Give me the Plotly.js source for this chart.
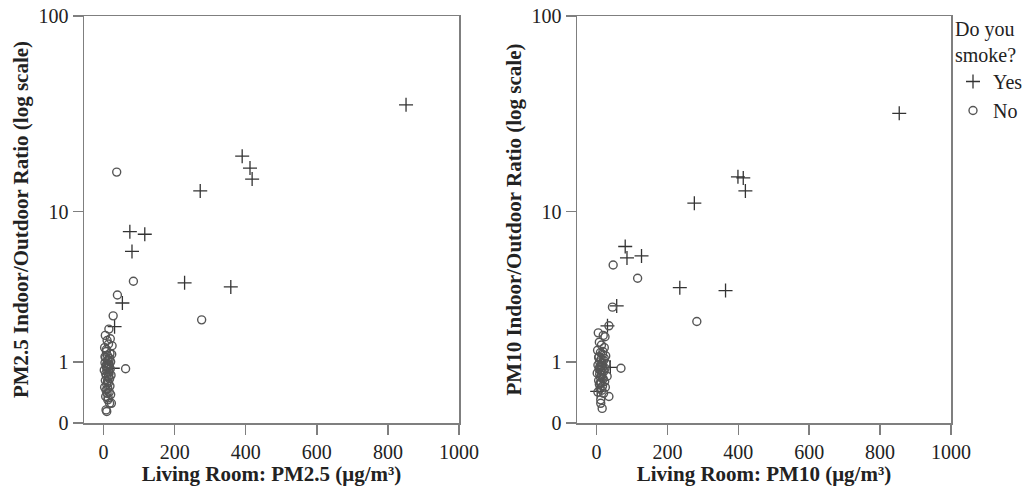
<!DOCTYPE html>
<html>
<head>
<meta charset="utf-8">
<script src="https://cdn.plot.ly/plotly-3.0.1.min.js"></script>
<style>html,body{margin:0;padding:0;background:#fff;}#chart{width:1024px;height:493px;}</style>
</head>
<body>
<div id="chart"></div>
<script>
// ---- Data (ratio values; the y axis is an SPSS "safe log" scale: log10(1 + ratio)) ----
// Left panel: PM2.5
const pm25YesX = [851, 390, 412, 418, 272, 74, 116, 80, 228, 358, 53, 31, 26];
const pm25YesR = [35.9, 19.6, 17.0, 14.9, 12.9, 7.75, 7.5, 6.0, 3.9, 3.68, 2.9, 1.98, 0.86];
const pm25NoX = [37, 84, 39, 27, 276, 62, 22, 9, 7, 17, 12,
  15, 5, 10, 14, 3, 8, 18, 11, 6, 13, 20, 4, 9, 16, 7, 12, 19, 2, 10, 15, 6, 21, 8, 13, 17,
  5, 11, 14, 9, 18, 3, 12, 7, 16, 10, 20, 6, 13, 8, 4, 11, 15, 9, 17, 24, 19, 12, 23, 14];
const pm25NoR = [16.2, 3.99, 3.27, 2.37, 2.22, 0.85, 0.25, 0.14, 0.16, 0.25, 0.3,
  1.9, 1.7, 1.55, 1.45, 1.35, 1.25, 1.2, 1.15, 1.1, 1.05, 1.0, 0.98, 0.95, 0.92, 0.9, 0.88, 0.85, 0.82, 0.8, 0.78, 0.75, 0.72, 0.7, 0.68, 0.65,
  0.62, 0.6, 0.58, 0.55, 0.52, 0.5, 0.48, 0.45, 0.42, 0.4, 0.38, 0.35, 0.33, 1.3, 1.12, 1.02, 0.93, 0.87, 1.08, 1.4, 1.6, 0.96, 1.18, 0.7];
// Right panel: PM10
const pm10YesX = [854, 399, 414, 420, 276, 81, 86, 127, 235, 364, 57, 31, 39, 2];
const pm10YesR = [32.5, 15.3, 15.1, 12.9, 11.1, 6.4, 5.5, 5.65, 3.64, 3.49, 2.77, 2.01, 0.88, 0.43];
const pm10NoX = [47, 116, 45, 283, 35, 24, 69, 35, 16, 12,
  5, 19, 8, 14, 22, 3, 11, 17, 26, 6, 13, 20, 9, 15, 28, 4, 10, 18, 24, 7, 12, 21, 16, 2, 9, 14, 30, 11,
  19, 6, 23, 13, 8, 17, 25, 10, 15, 4, 20, 12, 18, 7, 27, 14, 9, 22, 16, 11];
const pm10NoR = [5.0, 4.16, 2.72, 2.16, 2.01, 1.66, 0.86, 0.35, 0.18, 0.3,
  1.78, 1.7, 1.5, 1.42, 1.35, 1.28, 1.22, 1.18, 1.14, 1.1, 1.06, 1.03, 1.0, 0.98, 0.95, 0.93, 0.9, 0.88, 0.86, 0.84, 0.82, 0.8, 0.78, 0.76, 0.74, 0.72, 0.7, 0.68,
  0.65, 0.62, 0.6, 0.57, 0.55, 0.52, 0.5, 0.47, 0.45, 0.42, 0.4, 0.25, 1.25, 1.12, 0.96, 0.91, 0.87, 1.08, 0.67, 0.58];

const yTickValues = [0, 1, 10, 100];
const yTickLabels = ['0', '1', '10', '100'];
const xTickValues = [0, 200, 400, 600, 800, 1000];

const safeLog = r => Math.log10(1 + r);

const serif = '"Liberation Serif", "Times New Roman", serif';
const crossMarker = {symbol: 'cross-thin-open', size: 10, color: '#333', line: {color: '#333', width: 1.3}};
const circleMarker = {symbol: 'circle-open', size: 8, color: '#555', line: {color: '#555', width: 1.4}};

const traces = [
  {x: pm25YesX, y: pm25YesR.map(safeLog), type: 'scatter', mode: 'markers', name: 'Yes', marker: crossMarker, xaxis: 'x', yaxis: 'y', legendgroup: 'yes'},
  {x: pm25NoX, y: pm25NoR.map(safeLog), type: 'scatter', mode: 'markers', name: 'No', marker: circleMarker, xaxis: 'x', yaxis: 'y', legendgroup: 'no'},
  {x: pm10YesX, y: pm10YesR.map(safeLog), type: 'scatter', mode: 'markers', name: 'Yes', marker: crossMarker, xaxis: 'x2', yaxis: 'y2', legendgroup: 'yes', showlegend: false},
  {x: pm10NoX, y: pm10NoR.map(safeLog), type: 'scatter', mode: 'markers', name: 'No', marker: circleMarker, xaxis: 'x2', yaxis: 'y2', legendgroup: 'no', showlegend: false}
];

const yMax = safeLog(100);
function xAxis(domain, title, anchor) {
  return {
    domain: domain, anchor: anchor, range: [-55, 1000],
    tickvals: xTickValues, ticktext: xTickValues.map(String),
    ticks: 'outside', ticklen: 10, tickwidth: 1.5, tickcolor: '#7f7f7f',
    showline: true, mirror: true, linecolor: '#7f7f7f', linewidth: 1.5,
    showgrid: false, zeroline: false,
    tickfont: {family: serif, size: 20, color: '#222'},
    title: {text: '<b>' + title + '</b>', font: {family: serif, size: 21, color: '#222'}, standoff: 2}
  };
}
function yAxis(title, anchor) {
  return {
    domain: [1 - 423/493, 1 - 16/493], anchor: anchor, range: [0, yMax],
    tickvals: yTickValues.map(safeLog), ticktext: yTickLabels,
    ticks: 'outside', ticklen: 10, tickwidth: 1.5, tickcolor: '#7f7f7f',
    showline: true, mirror: true, linecolor: '#7f7f7f', linewidth: 1.5,
    showgrid: false, zeroline: false,
    tickfont: {family: serif, size: 20, color: '#222'},
    title: {text: '<b>' + title + '</b>', font: {family: serif, size: 21, color: '#222'}, standoff: 4}
  };
}

const layout = {
  width: 1024, height: 493,
  margin: {l: 0, r: 0, t: 0, b: 0, autoexpand: false},
  paper_bgcolor: '#fff', plot_bgcolor: '#fff',
  showlegend: true,
  xaxis: xAxis([84/1024, 459/1024], 'Living Room: PM2.5 (μg/m³)', 'y'),
  yaxis: yAxis('PM2.5 Indoor/Outdoor Ratio (log scale)', 'x'),
  xaxis2: xAxis([577/1024, 951/1024], 'Living Room: PM10 (μg/m³)', 'y2'),
  yaxis2: yAxis('PM10 Indoor/Outdoor Ratio (log scale)', 'x2'),
  legend: {
    x: 953/1024, y: 1 - 10/493, xanchor: 'left', yanchor: 'top',
    font: {family: serif, size: 20, color: '#222'},
    title: {text: 'Do you<br>smoke?', font: {family: serif, size: 20, color: '#222'}},
    bgcolor: 'rgba(0,0,0,0)', itemwidth: 30, tracegroupgap: 0
  }
};

Plotly.newPlot('chart', traces, layout, {displayModeBar: false, staticPlot: true});
</script>
</body>
</html>
